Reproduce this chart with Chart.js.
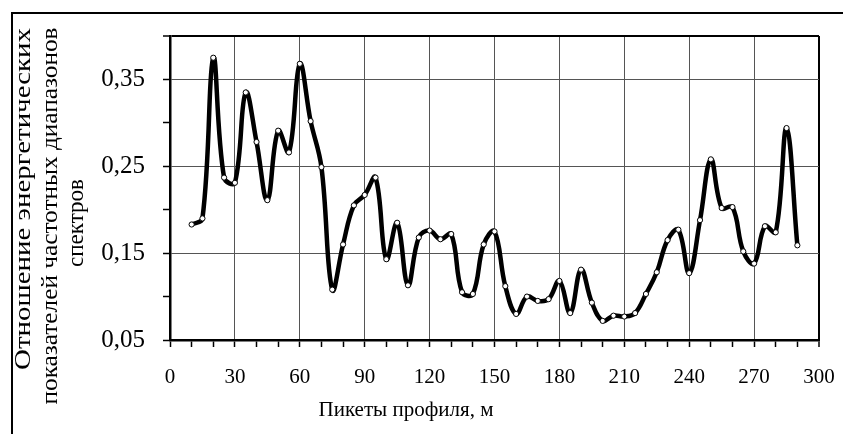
<!DOCTYPE html>
<html>
<head>
<meta charset="utf-8">
<script src="https://cdn.jsdelivr.net/npm/chart.js@4/dist/chart.umd.min.js"></script>
<style>
  html, body { margin: 0; padding: 0; background: #fff; overflow: hidden; }
  #wrap { position: relative; width: 843px; height: 434px; }
  #frame { position: absolute; left: 11px; top: 12px; width: 900px; height: 500px;
           border-top: 2px solid #000; border-left: 2px solid #000; }
  #chart { position: absolute; left: 0; top: 0; }
</style>
</head>
<body>
<div id="wrap">
  <div id="frame"></div>
  <canvas id="chart" width="843" height="434"></canvas>
</div>
<script>
// pickets along the profile, m
const pickets = [10, 15, 20, 25, 30, 35, 40, 45, 50, 55, 60, 65, 70, 75, 80, 85, 90, 95, 100, 105,
  110, 115, 120, 125, 130, 135, 140, 145, 150, 155, 160, 165, 170, 175, 180, 185, 190, 195, 200, 205,
  210, 215, 220, 225, 230, 235, 240, 245, 250, 255, 260, 265, 270, 275, 280, 285, 290];
// energy ratio of spectrum frequency bands
const ratios = [0.183, 0.190, 0.375, 0.237, 0.231, 0.335, 0.278, 0.211, 0.291, 0.266, 0.368, 0.302,
  0.249, 0.108, 0.160, 0.205, 0.217, 0.237, 0.143, 0.185, 0.113, 0.168, 0.176, 0.166, 0.172, 0.105,
  0.103, 0.160, 0.175, 0.112, 0.080, 0.100, 0.095, 0.097, 0.118, 0.081, 0.131, 0.093, 0.072, 0.078,
  0.077, 0.081, 0.103, 0.128, 0.165, 0.177, 0.127, 0.188, 0.258, 0.202, 0.203, 0.152, 0.138, 0.181,
  0.174, 0.294, 0.159];
const xLabelEvery = 30;
const yTitle = ["Отношение энергетических", "показателей частотных диапазонов", "спектров"];
const xTitle = "Пикеты профиля, м";

const serif = "'Liberation Serif', 'DejaVu Serif', serif";

// axis titles sit where the original figure put them, y title in three rotated lines
const titles = {
  id: "titles",
  afterDraw(chart) {
    const c = chart.ctx;
    c.save();
    c.fillStyle = "#000";
    c.font = "21px " + serif;
    c.textAlign = "center";
    c.textBaseline = "middle";
    c.fillText(xTitle, 406, 410);
    c.font = "24px " + serif;
    const pos = [[24, 199, 342], [51, 216, 377], [77, 223, 88]];
    yTitle.forEach((t, i) => {
      const w = c.measureText(t).width;
      c.save();
      c.translate(pos[i][0], pos[i][1]);
      c.rotate(-Math.PI / 2);
      c.scale(pos[i][2] / w, 1);
      c.fillText(t, 0, 0);
      c.restore();
    });
    c.restore();
  }
};

new Chart(document.getElementById("chart"), {
  type: "line",
  data: {
    datasets: [{
      data: pickets.map((p, i) => ({ x: p, y: ratios[i] })),
      borderColor: "#000",
      borderWidth: 4.5,
      tension: 0.4,
      pointRadius: 2.6,
      pointBackgroundColor: "#fff",
      pointBorderColor: "#000",
      pointBorderWidth: 1
    }]
  },
  options: {
    responsive: false,
    animation: false,
    devicePixelRatio: 1,
    layout: { padding: { left: 0, top: 36, right: 24, bottom: 0 } },
    plugins: { legend: { display: false }, tooltip: { enabled: false } },
    scales: {
      x: {
        type: "linear",
        min: 0,
        max: 300,
        afterFit: s => { s.height = 94; s.paddingLeft = 0; s.paddingRight = 0; },
        ticks: {
          stepSize: 10,
          autoSkip: false,
          maxRotation: 0,
          padding: 18,
          color: "#000",
          font: { family: serif, size: 21 },
          callback: v => (v % xLabelEvery === 0 ? v : "")
        },
        grid: {
          color: ctx => {
            const v = ctx.tick ? ctx.tick.value : 0;
            if (v === 300) return "#000";
            return v % xLabelEvery === 0 && v !== 0 ? "#555" : "rgba(0,0,0,0)";
          },
          lineWidth: ctx => (ctx.tick && ctx.tick.value === 300 ? 2 : 1),
          tickColor: "#000",
          tickWidth: 1.5,
          tickLength: 7
        },
        border: { color: "#000", width: 2.5 }
      },
      y: {
        min: 0.05,
        max: 0.4,
        afterFit: s => { s.width = 170; s.paddingTop = 0; s.paddingBottom = 0; },
        ticks: {
          stepSize: 0.05,
          autoSkip: false,
          padding: 18,
          color: "#000",
          font: { family: serif, size: 25 },
          callback: (v, i) => (i % 2 === 0 ? v.toFixed(2).replace(".", ",") : "")
        },
        grid: {
          color: ctx => {
            if (ctx.index === 7) return "#000";
            return ctx.index % 2 === 0 && ctx.index !== 0 ? "#555" : "rgba(0,0,0,0)";
          },
          lineWidth: ctx => (ctx.index === 7 ? 2 : 1),
          tickColor: "#000",
          tickWidth: 1.5,
          tickLength: 7
        },
        border: { color: "#000", width: 2.5 }
      }
    }
  },
  plugins: [titles]
});
</script>
</body>
</html>
